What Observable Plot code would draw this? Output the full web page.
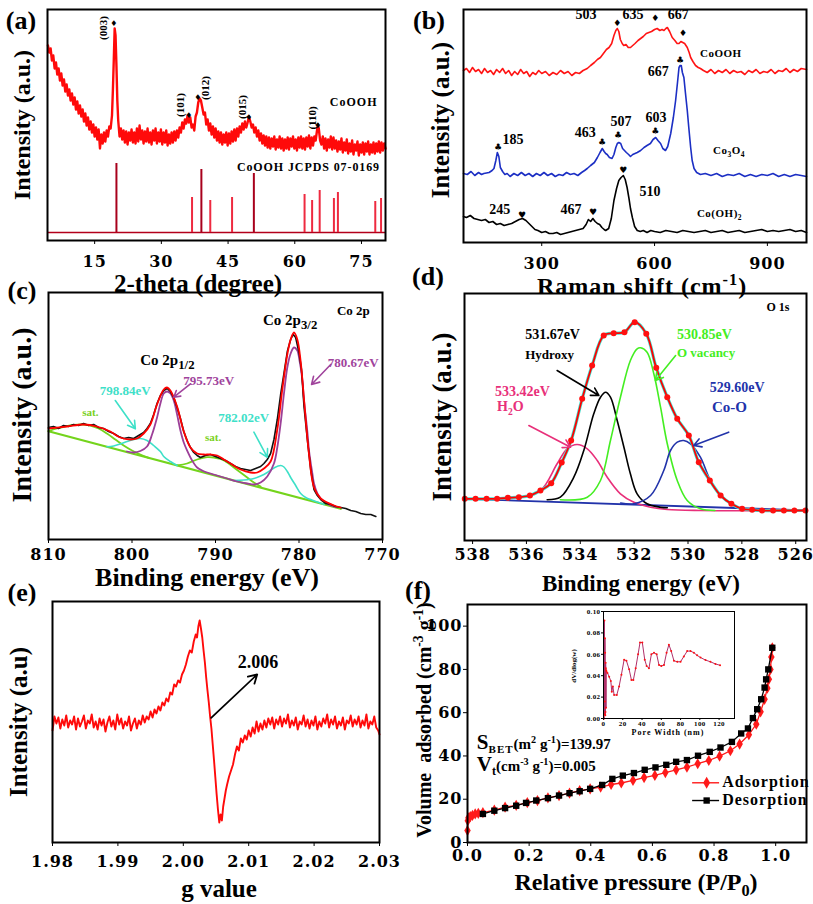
<!DOCTYPE html>
<html><head><meta charset="utf-8">
<script src="https://cdn.jsdelivr.net/npm/d3@7"></script>
<script src="https://cdn.jsdelivr.net/npm/@observablehq/plot@0.6"></script>
<style>
body{margin:0;background:#fff;}
#root{position:relative;width:813px;height:904px;overflow:hidden;background:#fff;}
.t{position:absolute;white-space:nowrap;font-family:'Liberation Serif','Times New Roman',serif;font-weight:bold;line-height:1;color:#000;}
.t sub,.t sup{font-size:68%;line-height:0;}
</style></head><body><div id="root"></div>
<script>
// ---------- (a) XRD ----------
const xrdTicks = [15,30,45,60,75];
const xrd = [[4.5,195],[4.8,188],[5.1,192],[5.4,180],[5.7,185],[6.0,172],[6.3,178],[6.6,166],[6.9,172],[7.2,160],[7.5,167],[7.8,155],[8.1,161],[8.4,149],[8.7,156],[9.0,145],[9.3,151],[9.6,140],[9.9,147],[10.2,136],[10.5,143],[10.8,131],[11.1,139],[11.4,127],[11.7,135],[12.0,124],[12.3,131],[12.6,119],[12.9,127],[13.2,115],[13.5,123],[13.8,111],[14.1,119],[14.4,108],[14.7,116],[15.0,104],[15.3,113],[15.6,101],[15.9,111],[16.2,92],[16.5,106],[16.8,97],[17.1,108],[17.4,99],[17.7,110],[18.0,104],[18.3,114],[18.6,112],[18.9,125],[19.1,150],[19.3,180],[19.5,212],[19.7,205],[19.9,175],[20.1,140],[20.3,120],[20.6,104],[20.9,112],[21.2,101],[21.5,110],[21.8,98],[22.1,109],[22.4,96],[22.7,108],[23.0,100],[23.3,111],[23.6,98],[23.9,108],[24.2,97],[24.5,112],[24.8,99],[25.1,115],[25.4,101],[25.7,110],[26.0,97],[26.3,109],[26.6,99],[26.9,112],[27.2,98],[27.5,108],[27.8,96],[28.1,110],[28.4,100],[28.7,112],[29.0,97],[29.3,108],[29.6,99],[29.9,111],[30.2,96],[30.5,108],[30.8,98],[31.1,110],[31.4,95],[31.7,106],[32.0,97],[32.3,108],[32.6,98],[32.9,109],[33.2,100],[33.5,110],[33.8,103],[34.1,113],[34.4,108],[34.7,118],[35.0,112],[35.3,121],[35.6,117],[35.9,125],[36.2,118],[36.5,123],[36.8,113],[37.1,116],[37.4,110],[37.7,124],[38.0,128],[38.3,138],[38.6,142],[38.9,140],[39.2,133],[39.5,126],[39.8,128],[40.1,116],[40.4,121],[40.7,110],[41.0,117],[41.3,106],[41.6,114],[41.9,103],[42.2,112],[42.5,100],[42.8,109],[43.1,98],[43.4,108],[43.7,96],[44.0,106],[44.3,98],[44.6,108],[44.9,95],[45.2,107],[45.5,97],[45.8,109],[46.1,99],[46.4,111],[46.7,100],[47.0,112],[47.3,104],[47.6,114],[47.9,108],[48.2,117],[48.5,111],[48.8,119],[49.1,113],[49.4,118],[49.7,124],[50.0,119],[50.3,113],[50.6,116],[50.9,108],[51.2,113],[51.5,104],[51.8,110],[52.1,100],[52.4,107],[52.7,97],[53.0,105],[53.3,95],[53.6,104],[53.9,93],[54.2,103],[54.5,92],[54.8,102],[55.1,94],[55.4,104],[55.7,91],[56.0,101],[56.3,93],[56.6,104],[56.9,92],[57.2,102],[57.5,90],[57.8,101],[58.1,92],[58.4,103],[58.7,91],[59.0,102],[59.3,94],[59.6,104],[59.9,92],[60.2,101],[60.5,90],[60.8,103],[61.1,93],[61.4,104],[61.7,92],[62.0,102],[62.3,91],[62.6,103],[62.9,94],[63.2,105],[63.5,92],[63.8,103],[64.1,95],[64.4,104],[64.7,100],[65.0,110],[65.2,116],[65.4,112],[65.7,100],[66.0,96],[66.3,104],[66.6,92],[66.9,102],[67.2,90],[67.5,101],[67.8,93],[68.1,104],[68.4,91],[68.7,103],[69.0,92],[69.3,100],[69.6,89],[69.9,99],[70.2,91],[70.5,102],[70.8,88],[71.1,98],[71.4,90],[71.7,101],[72.0,87],[72.3,97],[72.6,89],[72.9,100],[73.2,86],[73.5,96],[73.8,90],[74.1,99],[74.4,85],[74.7,96],[75.0,88],[75.3,98],[75.6,86],[75.9,97],[76.2,89],[76.5,99],[76.8,86],[77.1,96],[77.4,88],[77.7,98],[78.0,87],[78.3,97],[78.6,89],[78.9,99],[79.2,88],[79.5,98],[79.8,90],[80.1,97],[80.4,92]];
const jcpdsBase = 8;
const jcpds = [[19.9,77],[36.9,43],[39.0,71],[41.0,40],[45.9,43],[50.8,67],[62.2,46],[63.9,40],[65.6,50],[68.8,42],[69.7,48],[78.1,39],[79.4,42]];
const xrdPeakMarks = [[19.4,217],[36.3,125],[38.3,143],[49.8,123],[65.3,115]];
const xrdHkl = [[17.0,212,'(003)'],[34.3,135,'(101)'],[39.9,152,'(012)'],[48.2,133,'(015)'],[64.0,122,'(110)']];

// ---------- (b) Raman ----------
const ramanTicks = [300,600,900];
const ramanCoOOH = [[92,172],[100,174],[108,170],[116,175],[124,171],[132,173],[140,169],[148,174],[156,170],[164,172],[172,168],[180,173],[188,170],[196,174],[204,169],[212,172],[220,167],[228,171],[236,168],[244,173],[252,169],[260,171],[268,166],[276,170],[284,168],[292,172],[300,169],[310,171],[320,167],[330,170],[340,168],[350,172],[360,169],[370,171],[380,167],[390,170],[400,169],[410,172],[421,174],[430,177],[440,180],[448,183],[456,185],[464,189],[472,193],[479,195],[486,199],[492,207],[497,212],[501,214],[505,211],[509,203],[514,199],[518,197],[524,198],[530,195],[536,195],[542,197],[548,199],[556,202],[563,204],[570,206],[578,209],[585,210],[592,211],[600,213],[607,214],[614,212],[620,213],[625,212],[630,214],[634,215],[640,211],[647,205],[654,202],[660,199],[665,199],[670,201],[675,200],[680,199],[687,195],[692,190],[696,185],[702,181],[709,177],[716,175],[722,174],[730,172],[740,170],[750,173],[760,169],[770,172],[780,170],[790,173],[800,169],[810,172],[820,170],[830,171],[840,168],[850,172],[860,170],[870,173],[880,169],[890,171],[900,170],[910,173],[920,169],[930,172],[940,171],[950,174],[960,170],[970,173],[980,171],[990,174],[1004,173]];
const ramanCo3O4 = [[92,69],[102,68],[112,71],[122,67],[132,70],[140,68],[146,69],[160,70],[168,72],[173,74],[178,82],[182,90],[186,86],[190,75],[196,71],[202,68],[208,69],[216,66],[226,69],[236,67],[246,70],[256,67],[266,69],[276,66],[286,69],[296,67],[306,70],[316,67],[326,69],[336,66],[346,68],[356,67],[366,70],[376,68],[386,69],[396,67],[406,70],[414,72],[421,74],[430,77],[440,80],[448,85],[455,90],[461,94],[466,91],[470,89],[474,88],[480,85],[487,84],[492,88],[497,95],[501,99],[505,100],[510,99],[515,94],[520,92],[525,90],[531,88],[536,86],[542,88],[548,89],[554,90],[563,92],[572,95],[580,97],[589,99],[596,103],[603,105],[609,102],[616,99],[622,94],[629,92],[635,96],[643,109],[650,125],[656,142],[661,160],[665,175],[668,177],[671,177],[674,170],[678,165],[682,150],[687,132],[691,115],[696,95],[700,82],[705,74],[712,70],[722,68],[735,69],[750,67],[765,69],[780,66],[795,68],[810,67],[825,69],[840,66],[855,68],[870,66],[885,68],[900,67],[915,69],[930,66],[945,68],[960,66],[975,68],[990,67],[1004,66]];
const ramanCoOH2 = [[92,26],[100,25],[110,27],[120,24],[130,23],[140,22],[150,23],[160,20],[170,21],[180,18],[190,19],[200,17],[210,18],[220,19],[230,21],[240,23],[249,24],[258,22],[266,19],[274,16],[282,13],[290,12],[300,10],[310,11],[320,9],[330,9],[340,10],[350,8],[360,9],[370,10],[380,11],[390,12],[400,13],[410,14],[418,18],[424,23],[430,21],[436,24],[442,21],[448,19],[454,18],[460,15],[466,13],[470,12],[478,14],[485,24],[492,42],[499,54],[505,62],[511,65],[517,67],[522,63],[527,55],[532,44],[536,34],[541,25],[547,16],[554,12],[562,11],[570,12],[580,10],[590,12],[600,11],[615,10],[630,12],[645,11],[660,10],[675,12],[690,11],[705,10],[720,11],[735,12],[750,10],[765,11],[780,12],[795,10],[810,11],[825,12],[840,10],[855,11],[870,12],[885,13],[900,11],[915,12],[930,11],[945,12],[960,13],[975,11],[990,12],[1004,10]];
const ramanNums = [[419,227,'503'],[544,227,'635'],[664,227,'667'],[611,170,'667'],[225,102,'185'],[417,109,'463'],[512,120,'507'],[605,124,'603'],[589,50,'510'],[190,32,'245'],[379,32,'467']];
const ramanSyms = [[502,219,'♦'],[603,224,'♦'],[677,209,'♦'],[669,182,'♣'],[185,95,'♣'],[462,100,'♣'],[504,107,'♣'],[603,111,'♣'],[518,72,'♥'],[249,27,'♥'],[438,30,'♥']];
const ramanNames = [[722,189,'CoOOH'],[757,92,'Co<sub>3</sub>O<sub>4</sub>'],[714,29,'Co(OH)<sub>2</sub>']];

// ---------- (c) Co 2p XPS ----------
const co2pTicks = [810,800,790,780,770];
const co2pRaw = [[810.0,112],[809.4,113],[808.8,111],[808.2,114],[807.6,113],[807.0,115],[806.4,114],[805.8,116],[805.2,114],[804.6,115],[804.0,112],[803.4,111],[802.8,108],[802.2,106],[801.6,103],[801.0,101],[800.4,102],[799.8,101],[799.2,104],[798.6,107],[798.2,111],[797.8,116],[797.4,125],[797.0,136],[796.6,144],[796.2,149],[795.8,151],[795.4,148],[795.0,142],[794.6,132],[794.2,121],[793.8,108],[793.4,99],[793.0,92],[792.6,87],[792.2,84],[791.8,82],[791.2,84],[790.6,85],[790.0,83],[789.4,81],[788.8,79],[788.2,76],[787.6,73],[787.0,71],[786.4,70],[785.8,69],[785.2,71],[784.6,73],[784.2,76],[783.8,80],[783.4,86],[783.0,100],[782.6,120],[782.2,145],[781.8,166],[781.4,188],[781.0,200],[780.7,205],[780.4,202],[780.0,187],[779.7,170],[779.4,133],[779.0,100],[778.6,70],[778.2,50],[777.8,44],[777.4,40],[776.8,36],[776.2,35],[775.6,33],[775.0,32],[774.4,31],[773.8,29],[773.2,28],[772.6,26],[772.0,25],[771.4,25],[770.8,23]];
const co2pFit = [[810,111],[807.8,113],[805.8,115],[804.2,113],[802.6,108],[801.4,102],[800.2,100],[799.4,101],[798.6,106],[797.8,115],[797.0,135],[796.2,150],[795.8,152],[795.4,149],[794.6,133],[793.8,108],[793.0,92],[792.2,86],[791.4,85],[790.6,85],[789.8,84],[789.0,80],[788.2,76],[787.0,70],[785.8,67],[785.0,67],[784.2,71],[783.4,78],[782.6,110],[782.0,150],[781.4,185],[781.0,200],[780.6,207],[780.2,200],[779.8,178],[779.4,140],[778.8,85],[778.2,52],[777.4,41],[776.6,37],[775.8,34],[775.0,32]];
const co2pBaseline = [[810,108.3],[775,30.7]];
const co2pSat1 = [[810,108.3],[809,111],[808,113],[807,114.5],[806,115],[805,114],[804,111],[803,106],[802,100],[801,94],[800,89],[799,85],[798,81.7]];
const co2pSat2 = [[794.6,74.2],[793.4,76],[792.2,80],[791.0,82.3],[790.2,82],[789.4,80.5],[788.6,77],[787.8,72],[787.0,67],[786.2,62],[785.4,57],[784.6,53]];
const co2pCyan1 = [[803,92.8],[802.2,93.5],[801.4,95.5],[800.6,98],[799.8,100],[799.0,101],[798.2,99],[797.4,94],[796.6,88],[796.2,83],[795.4,78],[794.6,74]];
const co2pCyan2 = [[787.8,59],[786.6,59.5],[785.4,61],[784.6,63.5],[783.8,67],[783.0,71.5],[782.2,74],[781.8,72.5],[781.4,68],[781.0,62],[780.4,54],[779.8,46],[779.2,42],[778.6,40],[777.8,37.5],[777.0,35]];
const co2pMain = [[800.6,88],[799.8,87],[799.0,88.5],[798.2,93],[797.6,105],[797.0,122],[796.6,136],[796.2,146],[795.8,148],[795.4,146],[795.0,139],[794.6,125],[794.2,109],[793.8,97],[793.4,89],[792.8,79],[792.2,72],[791.6,69],[791.0,67],[789.8,64],[788.6,61],[787.4,58],[786.2,56],[785.4,55],[784.6,57],[783.8,63],[783.0,76],[782.6,92],[782.2,116],[781.8,146],[781.4,172],[781.0,186],[780.6,192],[780.2,189],[780.0,182],[779.6,160],[779.4,139],[779.0,108],[778.8,89],[778.4,66],[778.2,56],[777.8,46],[777.4,41],[776.8,37],[776.2,34],[775.6,32.5]];
const co2pArrows = [[776.2,175,778.5,155,'#a0449c'],[793.0,155.7,795.0,142.3,'#a0449c'],[802.0,139,799.6,110.7,'#3ee0c8'],[785.4,107.3,783.8,82.3,'#3ee0c8']];
const co2pLabels = [[775.4,229,'Co 2p','#000',13,'start'],[781.0,219,'Co 2p<sub style="font-size:85%">3/2</sub>','#000',15,'middle'],[795.7,179,'Co 2p<sub style="font-size:85%">1/2</sub>','#000',15,'middle'],[776.5,177,'780.67eV','#a0449c',13,'start'],[793.8,159,'795.73eV','#a0449c',13,'start'],[803.8,149,'798.84eV','#3ee0c8',13,'start'],[805.9,127,'sat.','#7ad11e',11,'start'],[789.6,122,'782.02eV','#3ee0c8',13,'start'],[791.2,102,'sat.','#7ad11e',11,'start']];

// ---------- (d) O 1s XPS ----------
const o1sTicks = [538,536,534,532,530,528,526];
const o1sData = [[538.29,41.7],[537.89,41.7],[537.48,41.7],[537.09,41.7],[536.69,42.7],[536.28,43.3],[535.87,45],[535.48,50],[535.08,57.3],[534.69,78],[534.34,100],[533.93,141.7],[533.56,175],[533.13,205],[532.76,207.3],[532.36,208.3],[531.98,218.3],[531.55,206.7],[531.18,172.7],[530.77,143.3],[530.40,121.7],[529.97,105],[529.60,78.3],[529.19,60],[528.79,45],[528.39,36.7],[527.99,31.7],[527.62,30.7],[527.25,30],[526.84,30],[526.44,30],[526.05,30],[525.64,30]];
const o1sBaseline = [[538.29,41.7],[525.57,30]];
const o1sH2O = [[538.29,41.7],[536.34,42.7],[535.48,50],[534.86,76.7],[534.49,91.7],[534.12,96],[533.74,91.7],[533.37,80],[533.0,63.3],[532.51,46.7],[532.01,38.3],[531.39,33.3],[530.77,31],[529.54,30],[525.57,30]];
const o1sHydroxy = [[535.23,40.7],[534.74,43.3],[534.24,63.3],[533.87,90],[533.5,126.7],[533.25,143.3],[533.06,148.3],[532.88,143.3],[532.63,120],[532.38,93.3],[532.14,66.7],[531.89,46.7],[531.52,36.7],[531.02,33.3],[530.77,32.7]];
const o1sVacancy = [[534.74,40.7],[533.74,43.3],[533.25,60],[532.88,100],[532.51,143.3],[532.14,180],[531.89,191.7],[531.76,192.7],[531.52,188.3],[531.27,166.7],[531.02,133.3],[530.77,96.7],[530.40,60],[530.03,40],[529.54,31.7],[529.0,30]];
const o1sCoO = [[532.5,37.5],[532.01,36.7],[531.39,45],[530.9,70],[530.65,90],[530.4,98.3],[530.16,100],[529.91,96.7],[529.54,83.3],[529.17,60],[528.79,45],[528.3,35],[527.93,31.3],[525.57,30]];
const o1sArrows = [[534.86,170,533.31,145,'#000'],[530.46,185,531.21,160,'#44ee22'],[535.91,115,534.36,93.3,'#e8307a'],[528.49,108.3,529.79,95,'#2233aa']];
const o1sLabels = [[526.64,233,'O 1s','#000',12,'middle'],[536.03,205,'531.67eV','#000',14,'start'],[536.03,186,'Hydroxy','#000',13,'start'],[530.39,205,'530.85eV','#44ee22',14,'start'],[530.39,188,'O vacancy','#44ee22',13,'start'],[537.15,148,'533.42eV','#e8307a',14,'start'],[537.07,133,'H<sub>2</sub>O','#e8307a',14,'start'],[529.17,152,'529.60eV','#2233aa',14,'start'],[529.09,133,'Co-O','#2233aa',15,'start']];

// ---------- (e) EPR ----------
const gTicks = [1.98,1.99,2.00,2.01,2.02,2.03];
const epr = [[1.9800,112],[1.9803,126],[1.9806,119],[1.9809,125],[1.9812,114],[1.9815,123],[1.9818,117],[1.9821,127],[1.9824,115],[1.9827,122],[1.9830,118],[1.9833,126],[1.9836,113],[1.9839,124],[1.9842,116],[1.9845,121],[1.9848,127],[1.9851,114],[1.9854,122],[1.9857,119],[1.9860,128],[1.9863,115],[1.9866,121],[1.9869,113],[1.9872,124],[1.9875,117],[1.9878,123],[1.9881,111],[1.9884,120],[1.9887,126],[1.9890,116],[1.9893,122],[1.9896,113],[1.9899,128],[1.9902,118],[1.9905,124],[1.9908,114],[1.9911,121],[1.9914,117],[1.9917,126],[1.9920,112],[1.9923,119],[1.9926,124],[1.9929,114],[1.9932,122],[1.9935,118],[1.9938,127],[1.9941,120],[1.9944,126],[1.9947,123],[1.9950,131],[1.9953,125],[1.9956,133],[1.9959,129],[1.9962,136],[1.9965,132],[1.9968,140],[1.9971,137],[1.9974,144],[1.9977,141],[1.9980,150],[1.9983,148],[1.9986,158],[1.9989,156],[1.9992,162],[1.9995,160],[1.9998,168],[2.0001,172],[2.0004,178],[2.0007,186],[2.0010,192],[2.0013,190],[2.0016,201],[2.0019,208],[2.0021,205],[2.0023,216],[2.0025,222],[2.0027,214],[2.0029,205],[2.0031,192],[2.0033,180],[2.0035,165],[2.0037,152],[2.0039,140],[2.0041,126],[2.0043,114],[2.0045,98],[2.0047,82],[2.0049,65],[2.0051,48],[2.0053,33],[2.0055,20],[2.0057,28],[2.0059,22],[2.0061,36],[2.0063,44],[2.0065,52],[2.0067,58],[2.0070,66],[2.0073,72],[2.0076,78],[2.0079,88],[2.0082,96],[2.0085,92],[2.0088,104],[2.0091,100],[2.0094,107],[2.0097,103],[2.0100,112],[2.0103,106],[2.0106,115],[2.0109,109],[2.0112,121],[2.0115,111],[2.0118,119],[2.0121,113],[2.0124,122],[2.0127,115],[2.0130,124],[2.0133,118],[2.0136,125],[2.0139,114],[2.0142,123],[2.0145,118],[2.0148,126],[2.0151,116],[2.0154,124],[2.0157,119],[2.0160,128],[2.0163,115],[2.0166,122],[2.0169,117],[2.0172,125],[2.0175,113],[2.0178,121],[2.0181,118],[2.0184,127],[2.0187,116],[2.0190,123],[2.0193,114],[2.0196,122],[2.0199,117],[2.0202,126],[2.0205,113],[2.0208,121],[2.0211,116],[2.0214,124],[2.0217,119],[2.0220,128],[2.0223,115],[2.0226,123],[2.0229,118],[2.0232,126],[2.0235,114],[2.0238,121],[2.0241,117],[2.0244,125],[2.0247,113],[2.0250,122],[2.0253,119],[2.0256,127],[2.0259,116],[2.0262,123],[2.0265,118],[2.0268,126],[2.0271,115],[2.0274,122],[2.0277,117],[2.0280,128],[2.0283,114],[2.0286,121],[2.0289,118],[2.0292,126],[2.0295,115],[2.0298,112],[2.0300,108]];
const eprArrow = [[2.00426,124.7,2.0113,168]];
const eprLabel = [2.0115,180,'2.006'];

// ---------- (f) BET ----------
const pTicks = [0,0.2,0.4,0.6,0.8,1.0];
const vTicks = [0,20,40,60,80,100];
const adsorption = [[0.0,5.5],[0.001,10.1],[0.003,11.4],[0.009,12.0],[0.016,12.5],[0.025,13.2],[0.035,13.5],[0.050,13.8],[0.087,15.0],[0.122,16.3],[0.158,17.2],[0.194,18.4],[0.227,19.4],[0.261,20.6],[0.297,21.7],[0.331,22.8],[0.364,24.0],[0.398,24.8],[0.432,25.6],[0.466,26.8],[0.499,27.5],[0.537,28.7],[0.573,30.0],[0.608,31.0],[0.642,32.3],[0.677,33.6],[0.712,34.8],[0.747,36.4],[0.783,37.9],[0.818,39.9],[0.853,42.4],[0.883,45.5],[0.913,49.8],[0.937,54.7],[0.951,60.4],[0.964,66.2],[0.973,71.3],[0.978,75.4],[0.983,80.0],[0.986,85.7],[0.989,90.0]];
const desorption = [[0.050,13.2],[0.087,14.7],[0.122,15.9],[0.158,17.0],[0.190,18.3],[0.223,19.4],[0.261,20.5],[0.297,21.7],[0.331,22.8],[0.364,23.7],[0.398,24.8],[0.437,26.6],[0.470,29.4],[0.504,30.9],[0.540,32.1],[0.575,33.6],[0.610,34.7],[0.645,35.9],[0.677,37.3],[0.712,38.1],[0.748,40.1],[0.786,41.9],[0.821,43.9],[0.858,46.5],[0.888,50.4],[0.910,52.7],[0.926,57.5],[0.940,61.6],[0.953,66.2],[0.964,71.6],[0.969,75.4],[0.976,80.0],[0.989,90.0]];
const legendRows = [['Adsorption',27.6],['Desorption',19.4]];
const legendX = [0.7305,0.776,0.818,0.828];
const betText = [[0.032,46.4,'<span style="font-size:21px">S</span><sub style="font-size:11px;letter-spacing:1px">BET</sub>(m<sup>2</sup> g<sup>-1</sup>)=139.97'],[0.032,36.2,'<span style="font-size:21px">V</span><sub style="font-size:12px">t</sub>(cm<sup>-3</sup> g<sup>-1</sup>)=0.005']];
// inset: pore size distribution
const poreTicksX = [0,20,40,60,80,100,120];
const poreTicksY = [0,0.02,0.04,0.06,0.08,0.10];
const pore = [[0.7,0],[1.0,0.0915],[1.2,0.004],[1.4,0.016],[1.5,0.075],[1.7,0.0615],[1.9,0.003],[2.1,0.006],[2.2,0.052],[2.4,0.047],[2.6,0.01],[2.8,0.045],[3.1,0.044],[4.1,0.0426],[5.9,0.039],[7.6,0.035],[8.6,0.025],[9.7,0.030],[11,0.022],[13.8,0.022],[16.2,0.030],[18.6,0.041],[21.4,0.055],[23.8,0.054],[26.6,0.046],[29,0.036],[31,0.036],[33.4,0.047],[35.9,0.060],[37.9,0.071],[40.3,0.071],[42.8,0.055],[44.8,0.049],[47.2,0.047],[49.7,0.060],[52.4,0.0615],[55.2,0.060],[57.6,0.050],[60,0.049],[62.8,0.050],[65.5,0.0615],[67.9,0.069],[70.3,0.063],[73.1,0.054],[76.6,0.053],[80,0.053],[83.4,0.058],[86.9,0.063],[90.3,0.063],[93.8,0.0615],[97.2,0.059],[100.7,0.057],[105.9,0.0546],[111,0.053],[116.2,0.051],[121,0.0497]];

// ---------- helpers ----------
const root = document.getElementById('root');
const X = d => d[0], Y = d => d[1];
function put(px, py, html, css = '', anchor = 'middle', rot = 0) {
  const d = document.createElement('div');
  d.className = 't';
  d.innerHTML = html;
  d.style.cssText += `left:${px}px;top:${py}px;` + css;
  const tx = anchor === 'start' ? '0' : anchor === 'end' ? '-100%' : '-50%';
  d.style.transform = `translate(${tx},-50%)` + (rot ? ` rotate(${rot}deg)` : '');
  root.appendChild(d);
}
function mkScale(s) {
  if (s && typeof s.apply === 'function') return v => s.apply(v);
  const [d0, d1] = s.domain, [r0, r1] = s.range;
  return v => r0 + (v - d0) / (d1 - d0) * (r1 - r0);
}
function panel(c) {
  const ml = c.ml ?? 12, mr = c.mr ?? 12, mt = c.mt ?? 12, mb = c.mb ?? 34;
  const plot = Plot.plot({
    width: c.w + ml + mr, height: c.h + mt + mb,
    marginLeft: ml, marginRight: mr, marginTop: mt, marginBottom: mb,
    x: Object.assign({domain: c.xd, label: null, tickSize: 4}, c.xo),
    y: Object.assign({domain: c.yd, label: null, axis: null}, c.yo),
    style: Object.assign({background: 'transparent', fontFamily: "'DejaVu Serif', serif", fontWeight: 'bold', fontSize: '16px', letterSpacing: '1px', overflow: 'visible', color: '#000'}, c.style || {}),
    marks: [...c.marks, Plot.frame({stroke: '#000', strokeWidth: c.fw ?? 2})]
  });
  plot.style.position = 'absolute';
  plot.style.left = (c.left - ml) + 'px';
  plot.style.top = (c.top - mt) + 'px';
  plot.style.maxWidth = 'none';
  root.appendChild(plot);
  const sx = mkScale(plot.scale('x')), sy = mkScale(plot.scale('y'));
  return {X: v => c.left - ml + sx(v), Y: v => c.top - mt + sy(v)};
}
const sym = (data, color = '#000', size = 10) => Plot.text(data, {x: X, y: Y, text: d => d[2], fill: color, fontSize: size, fontFamily: 'DejaVu Sans'});
const arrows = (data, w = 1.6) => Plot.arrow(data, {x1: d => d[0], y1: d => d[1], x2: d => d[2], y2: d => d[3], stroke: d => d[4], strokeWidth: w, headLength: 8});

// ---------- (a) ----------
const A = panel({left: 47, top: 9, w: 338, h: 231, xd: [4.4, 80.4], yd: [0, 231],
  xo: {ticks: xrdTicks, tickPadding: 11},
  marks: [
    Plot.ruleY([jcpdsBase], {stroke: '#b3001b', strokeWidth: 1.6}),
    Plot.ruleX(jcpds, {x: X, y1: jcpdsBase, y2: Y, stroke: d => d[1] > 60 ? '#a8001c' : '#ee2a40', strokeWidth: 2}),
    Plot.line(xrd, {x: X, y: Y, stroke: '#ff0a0a', strokeWidth: 2.4}),
    sym(xrdPeakMarks.map(d => [d[0], d[1], '♦']), '#000', 8)
  ]});
xrdHkl.forEach(d => put(A.X(d[0]), A.Y(d[1]), d[2], 'font-size:11px', 'middle', -90));
put(A.X(68.0), A.Y(138), 'CoOOH', 'font-size:12px;letter-spacing:1px', 'start');
put(A.X(47.1), A.Y(73), 'CoOOH JCPDS 07-0169', 'font-size:12px;letter-spacing:0.9px', 'start');

// ---------- (b) ----------
const B = panel({left: 463, top: 9, w: 343, h: 233, xd: [92, 1004], yd: [0, 233],
  xo: {ticks: ramanTicks, tickPadding: 11},
  marks: [
    Plot.line(ramanCoOOH, {x: X, y: Y, stroke: '#ff1414', strokeWidth: 1.6}),
    Plot.line(ramanCo3O4, {x: X, y: Y, stroke: '#1c2fc4', strokeWidth: 1.6}),
    Plot.line(ramanCoOH2, {x: X, y: Y, stroke: '#000', strokeWidth: 1.6}),
    sym(ramanSyms, '#000', 9)
  ]});
ramanNums.forEach(d => put(B.X(d[0]), B.Y(d[1]), d[2], 'font-size:14px'));
ramanNames.forEach(d => put(B.X(d[0]), B.Y(d[1]), d[2], 'font-size:11px;letter-spacing:0.5px', 'start'));

// ---------- (c) ----------
const C = panel({left: 48, top: 292, w: 334, h: 247, xd: [810, 770], yd: [0, 247],
  xo: {ticks: co2pTicks, tickPadding: 5},
  marks: [
    Plot.line(co2pBaseline, {x: X, y: Y, stroke: '#74d41c', strokeWidth: 2.2}),
    Plot.line(co2pSat1, {x: X, y: Y, stroke: '#74d41c', strokeWidth: 1.8, curve: 'catmull-rom'}),
    Plot.line(co2pSat2, {x: X, y: Y, stroke: '#74d41c', strokeWidth: 1.8, curve: 'catmull-rom'}),
    Plot.line(co2pCyan1, {x: X, y: Y, stroke: '#3ee0c8', strokeWidth: 1.6, curve: 'catmull-rom'}),
    Plot.line(co2pCyan2, {x: X, y: Y, stroke: '#3ee0c8', strokeWidth: 1.6, curve: 'catmull-rom'}),
    Plot.line(co2pMain, {x: X, y: Y, stroke: '#9c3f98', strokeWidth: 1.8, curve: 'catmull-rom'}),
    Plot.line(co2pRaw, {x: X, y: Y, stroke: '#111', strokeWidth: 1.6}),
    Plot.line(co2pFit, {x: X, y: Y, stroke: '#ff0000', strokeWidth: 1.8, curve: 'catmull-rom'}),
    arrows(co2pArrows)
  ]});
co2pLabels.forEach(d => put(C.X(d[0]), C.Y(d[1]), d[2], `font-size:${d[4]}px;color:${d[3]}`, d[5]));

// ---------- (d) ----------
const D = panel({left: 464, top: 293, w: 342, h: 247, xd: [538.3, 525.6], yd: [0, 247],
  xo: {ticks: o1sTicks, tickPadding: 4},
  marks: [
    Plot.line(o1sBaseline, {x: X, y: Y, stroke: '#2233aa', strokeWidth: 1.8}),
    Plot.line(o1sH2O, {x: X, y: Y, stroke: '#e8307a', strokeWidth: 1.6, curve: 'catmull-rom'}),
    Plot.line(o1sHydroxy, {x: X, y: Y, stroke: '#000', strokeWidth: 1.6, curve: 'catmull-rom'}),
    Plot.line(o1sVacancy, {x: X, y: Y, stroke: '#44ee22', strokeWidth: 1.6, curve: 'catmull-rom'}),
    Plot.line(o1sCoO, {x: X, y: Y, stroke: '#2233aa', strokeWidth: 1.6, curve: 'catmull-rom'}),
    Plot.line(o1sData, {x: X, y: Y, stroke: '#40e0d0', strokeWidth: 3.2, curve: 'catmull-rom'}),
    Plot.line(o1sData, {x: X, y: Y, stroke: '#ff0000', strokeWidth: 1.8, curve: 'catmull-rom'}),
    Plot.dot(o1sData, {x: X, y: Y, fill: '#ff1010', r: 3}),
    arrows(o1sArrows)
  ]});
o1sLabels.forEach(d => put(D.X(d[0]), D.Y(d[1]), d[2], `font-size:${d[4]}px;color:${d[3]}`, d[5]));

// ---------- (e) ----------
const E = panel({left: 52, top: 601, w: 327, h: 241, xd: [1.98, 2.03], yd: [0, 241],
  xo: {ticks: gTicks, tickPadding: 9, tickFormat: d => d.toFixed(2)},
  marks: [
    Plot.line(epr, {x: X, y: Y, stroke: '#ff0a0a', strokeWidth: 1.9}),
    Plot.arrow(eprArrow, {x1: d => d[0], y1: d => d[1], x2: d => d[2], y2: d => d[3], stroke: '#000', strokeWidth: 1.8, headLength: 8})
  ]});
put(E.X(eprLabel[0]), E.Y(eprLabel[1]), eprLabel[2], 'font-size:18px');

// ---------- (f) ----------
const F = panel({left: 467, top: 604, w: 339, h: 238, ml: 50, xd: [0, 1.1], yd: [0, 110],
  xo: {ticks: pTicks, tickPadding: 3, tickFormat: d => d.toFixed(1)},
  yo: {axis: 'left', ticks: vTicks, tickSize: 4, tickPadding: 1},
  marks: [
    Plot.line(adsorption, {x: X, y: Y, stroke: '#ff1a1a', strokeWidth: 1.3}),
    Plot.dot(adsorption, {x: X, y: Y, symbol: 'diamond', fill: '#ff1a1a', r: 3.4}),
    Plot.line(desorption, {x: X, y: Y, stroke: '#000', strokeWidth: 1.3}),
    Plot.dot(desorption, {x: X, y: Y, symbol: 'square', fill: '#000', r: 3.6}),
    Plot.ruleY(legendRows, {y: d => d[1], x1: legendX[0], x2: legendX[2], stroke: (d, i) => i ? '#000' : '#ff1a1a', strokeWidth: 1.4}),
    Plot.dot(legendRows, {x: legendX[1], y: d => d[1], symbol: (d, i) => i ? 'square' : 'diamond', fill: (d, i) => i ? '#000' : '#ff1a1a', r: 3.6})
  ]});
legendRows.forEach(d => put(F.X(legendX[3]), F.Y(d[1]), d[0], 'font-size:16px;letter-spacing:1px', 'start'));
betText.forEach(d => put(F.X(d[0]), F.Y(d[1]), d[2], 'font-size:15px', 'start'));

// inset
const I = panel({left: 603, top: 611, w: 131, h: 107, ml: 30, mb: 20, mt: 4, mr: 4, fw: 1,
  xd: [0, 136], yd: [0, 0.1],
  xo: {ticks: poreTicksX, tickSize: 2, tickPadding: 1},
  yo: {axis: 'left', ticks: poreTicksY, tickSize: 2, tickPadding: 1, tickFormat: d => d.toFixed(2)},
  style: {fontFamily: "'Liberation Serif', serif", fontSize: '7px', letterSpacing: '0.4px'},
  marks: [
    Plot.line(pore, {x: X, y: Y, stroke: '#b0306a', strokeWidth: 1}),
    Plot.dot(pore, {x: X, y: Y, fill: '#ff1010', r: 1})
  ]});
put(574, 666, 'dV/dlog(w)', 'font-size:7px', 'middle', -90);
put(668, 733, 'Pore Width (nm)', 'font-size:8px;letter-spacing:1px');

// ---------- axis titles & panel letters ----------
put(198, 283, '2-theta (degree)', 'font-size:25px');
put(642, 286, 'Raman shift (cm<sup>-1</sup>)', 'font-size:24px;letter-spacing:1px');
put(207, 578, 'Binding energy (eV)', 'font-size:26px');
put(641, 583, 'Binding energy (eV)', 'font-size:23px');
put(219, 888, 'g value', 'font-size:25px');
put(636, 882, 'Relative pressure (P/P<sub>0</sub>)', 'font-size:24px');
put(22, 125, 'Intensity (a.u.)', 'font-size:24px', 'middle', -90);
put(440, 120, 'Intensity (a.u.)', 'font-size:25px', 'middle', -90);
put(22, 415, 'Intensity (a.u.)', 'font-size:28px', 'middle', -90);
put(442, 417, 'Intensity (a.u.)', 'font-size:27px', 'middle', -90);
put(18, 722, 'Intensity (a.u)', 'font-size:25px', 'middle', -90);
put(424, 720, 'Volume&nbsp; adsorbed (cm<sup>-3</sup> g<sup>-1</sup>)', 'font-size:20px', 'middle', -90);
put(21, 21, '(a)', 'font-size:26px');
put(429, 21, '(b)', 'font-size:26px');
put(22, 291, '(c)', 'font-size:26px');
put(428, 277, '(d)', 'font-size:26px');
put(22, 593, '(e)', 'font-size:26px');
put(418, 591, '(f)', 'font-size:26px');
</script></body></html>
